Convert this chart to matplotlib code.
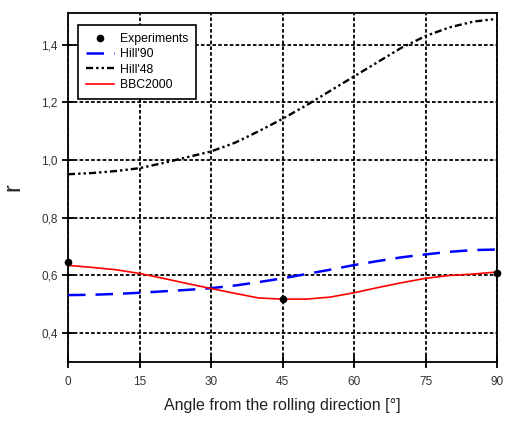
import matplotlib
matplotlib.use("Agg")
import matplotlib.pyplot as plt
from matplotlib.ticker import FuncFormatter

plt.rcParams['font.family'] = ['Liberation Sans', 'DejaVu Sans']

angles = [0, 5, 10, 15, 20, 25, 30, 35, 40, 45, 50, 55, 60, 65, 70, 75, 80, 85, 90]
hill48 = [0.951, 0.955, 0.962, 0.972, 0.99, 1.01, 1.03, 1.06, 1.10, 1.143, 1.19, 1.24,
          1.29, 1.34, 1.39, 1.43, 1.46, 1.48, 1.49]
hill90 = [0.532, 0.533, 0.536, 0.54, 0.545, 0.55, 0.556, 0.565, 0.577, 0.59, 0.605, 0.62,
          0.636, 0.65, 0.663, 0.673, 0.682, 0.688, 0.69]
bbc2000 = [0.635, 0.628, 0.62, 0.607, 0.59, 0.572, 0.555, 0.538, 0.522, 0.518, 0.518, 0.525,
           0.54, 0.558, 0.575, 0.59, 0.6, 0.605, 0.612]
exp_angles = [0, 45, 90]
exp_r = [0.645, 0.52, 0.61]
xticks = [0, 15, 30, 45, 60, 75, 90]
yticks = [0.4, 0.6, 0.8, 1.0, 1.2, 1.4]

fig = plt.figure(figsize=(5.09, 4.21), dpi=100)
ax = fig.add_axes([68/509, 59/421, 429/509, 349/421])

ax.plot(exp_angles, exp_r, 'o', color='black', markersize=4.5, label='Experiments',
        clip_on=False, zorder=5)
ax.plot(angles, hill90, color='blue', lw=1.8, dashes=(7, 4), label="Hill'90", zorder=3)
ax.plot(angles, hill48, color='black', lw=1.7, dashes=(3, 1.3, 1, 1.3, 1, 1.3),
        label="Hill'48", zorder=3)
ax.plot(angles, bbc2000, color='red', lw=1.2, label='BBC2000', zorder=4)

ax.set_xlim(0, 90)
ax.set_ylim(0.3, 1.51)
ax.set_xticks(xticks)
ax.set_yticks(yticks)
ax.yaxis.set_major_formatter(FuncFormatter(lambda v, p: f"{v:.1f}".replace('.', ',')))
ax.xaxis.set_major_formatter(FuncFormatter(lambda v, p: f"{int(round(v))}"))
ax.grid(True, color='black', lw=1.3, linestyle=(0, (2, 1.2)))
ax.set_axisbelow(True)
for s in ax.spines.values():
    s.set_linewidth(1.3)
ax.tick_params(axis='both', direction='inout', length=8, width=1.3, labelsize=8.5,
               colors='black', labelcolor='#333333')
ax.tick_params(axis='x', pad=6)

ax.set_xlabel('Angle from the rolling direction [°]', fontsize=11.5, color='#222222', labelpad=7)
ax.set_ylabel('r', fontsize=17, color='#222222', labelpad=12)

leg = ax.legend(loc='upper left', bbox_to_anchor=(0.023, 0.966), borderaxespad=0,
                fontsize=8.8, fancybox=False, edgecolor='black', framealpha=1,
                handlelength=2.3, handletextpad=0.5, labelspacing=0.28, borderpad=0.65)
leg.get_frame().set_linewidth(1.2)

fig.savefig('out.png', dpi=100)
